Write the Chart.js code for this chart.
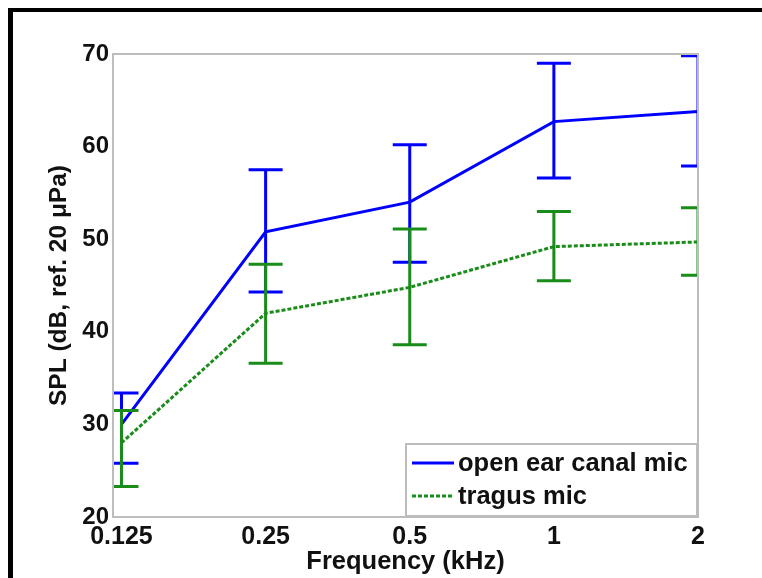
<!DOCTYPE html>
<html>
<head>
<meta charset="utf-8">
<script src="https://cdn.jsdelivr.net/npm/chart.js@4"></script>
<style>
  html, body { margin: 0; padding: 0; background: #fff; }
  #wrap { width: 762px; height: 578px; }
</style>
</head>
<body>
<div id="wrap"><canvas id="splChart" width="762" height="578"></canvas></div>
<script>
const freqs = [0.125, 0.25, 0.5, 1, 2];
const xTickLabels = ["0.125", "0.25", "0.5", "1", "2"];

const openEarMean = [30.0, 50.8, 54.0, 62.7, 63.8];
const openEarLow  = [25.8, 44.3, 47.5, 56.6, 57.9];
const openEarHigh = [33.4, 57.5, 60.2, 69.0, 69.8];

const tragusMean = [28.0, 42.0, 44.8, 49.2, 49.7];
const tragusLow  = [23.3, 36.6, 38.6, 45.5, 46.1];
const tragusHigh = [31.5, 47.3, 51.1, 53.0, 53.4];

const seriesLabels = ["open ear canal mic", "tragus mic"];
const BLUE = "#0000ff";
const GREEN = "#1a8c1a";
const FONT = "'Liberation Sans', Arial, sans-serif";

const errLow = [openEarLow, tragusLow];
const errHigh = [openEarHigh, tragusHigh];

// frame + axis box
const framePlugin = {
    id: "frame",
    beforeDraw(chart) {
        const ctx = chart.ctx;
        ctx.save();
        ctx.fillStyle = "#fff";
        ctx.fillRect(0, 0, chart.width, chart.height);
        ctx.fillStyle = "#000";
        ctx.fillRect(8, 8, chart.width - 8, 4);
        ctx.fillRect(8, 8, 5, chart.height - 8);
        ctx.restore();
    },
    afterDraw(chart) {
        const ca = chart.chartArea;
        const ctx = chart.ctx;
        ctx.save();
        ctx.strokeStyle = "#bdbdbd";
        ctx.lineWidth = 2;
        ctx.strokeRect(ca.left, ca.top, ca.right - ca.left, ca.bottom - ca.top);
        ctx.restore();
    }
};

// error bars, drawn right after each series' line
const errorBarPlugin = {
    id: "errorBars",
    afterDatasetDraw(chart, args) {
        const i = args.index;
        const ds = chart.data.datasets[i];
        const xs = chart.scales.x, ys = chart.scales.y;
        const ca = chart.chartArea;
        const ctx = chart.ctx;
        ctx.save();
        ctx.beginPath();
        ctx.rect(ca.left, ca.top - 2, ca.right - ca.left, ca.bottom - ca.top + 4);
        ctx.clip();
        ctx.strokeStyle = ds.borderColor;
        ctx.lineWidth = 3;
        ctx.setLineDash([]);
        const cap = 17;
        freqs.forEach((f, k) => {
            const px = xs.getPixelForValue(f);
            const yl = ys.getPixelForValue(errLow[i][k]);
            const yh = ys.getPixelForValue(errHigh[i][k]);
            ctx.beginPath();
            ctx.moveTo(px, yl); ctx.lineTo(px, yh);
            ctx.moveTo(px - cap, yl); ctx.lineTo(px + cap, yl);
            ctx.moveTo(px - cap, yh); ctx.lineTo(px + cap, yh);
            ctx.stroke();
        });
        ctx.restore();
    }
};

// legend box inside the lower right of the plot
const boxLegendPlugin = {
    id: "boxLegend",
    afterDraw(chart) {
        const ca = chart.chartArea;
        const ctx = chart.ctx;
        const x0 = ca.right - 292, y0 = ca.bottom - 73, w = 291, h = 72;
        ctx.save();
        ctx.fillStyle = "#fff";
        ctx.fillRect(x0, y0, w, h);
        ctx.strokeStyle = "#bdbdbd";
        ctx.lineWidth = 2;
        ctx.strokeRect(x0, y0, w, h);
        ctx.font = "bold 25.5px " + FONT;
        ctx.textBaseline = "middle";
        ctx.fillStyle = "#111";
        chart.data.datasets.forEach((ds, i) => {
            const cy = y0 + 19 + i * 33;
            ctx.strokeStyle = ds.borderColor;
            ctx.lineWidth = 3;
            ctx.setLineDash(ds.borderDash || []);
            ctx.beginPath();
            ctx.moveTo(x0 + 6, cy);
            ctx.lineTo(x0 + 48, cy);
            ctx.stroke();
            ctx.fillText(ds.label, x0 + 52, cy + 1);
        });
        ctx.restore();
    }
};

const toPoints = (ys) => freqs.map((f, k) => ({ x: f, y: ys[k] }));

new Chart(document.getElementById("splChart").getContext("2d"), {
    type: "line",
    data: {
        datasets: [{
            label: seriesLabels[0],
            data: toPoints(openEarMean),
            borderColor: BLUE,
            borderWidth: 3,
            pointRadius: 0,
            tension: 0,
            order: 1
        }, {
            label: seriesLabels[1],
            data: toPoints(tragusMean),
            borderColor: GREEN,
            borderWidth: 3,
            borderDash: [4, 2],
            pointRadius: 0,
            tension: 0,
            order: 0
        }]
    },
    options: {
        responsive: false,
        animation: false,
        layout: { padding: { left: 0, top: 54, right: 64, bottom: 0 } },
        plugins: {
            legend: { display: false },
            tooltip: { enabled: false }
        },
        scales: {
            x: {
                type: "logarithmic",
                min: 0.12,
                max: 2,
                afterBuildTicks: (s) => { s.ticks = freqs.map(v => ({ value: v })); },
                afterFit: (s) => { s.height = 61; },
                grid: { display: false, drawTicks: false },
                border: { display: false },
                ticks: {
                    autoSkip: false,
                    maxRotation: 0,
                    padding: 5,
                    color: "#111",
                    font: { family: FONT, size: 25, weight: "bold" },
                    callback: (v) => xTickLabels[freqs.indexOf(v)] ?? ""
                },
                title: {
                    display: true,
                    text: "Frequency (kHz)",
                    color: "#111",
                    padding: { top: 0, bottom: 1 },
                    font: { family: FONT, size: 25.5, weight: "bold" }
                }
            },
            y: {
                min: 20,
                max: 70,
                afterFit: (s) => { s.width = 113; },
                grid: { display: false, drawTicks: false },
                border: { display: false },
                ticks: {
                    stepSize: 10,
                    padding: 4,
                    color: "#111",
                    font: { family: FONT, size: 24, weight: "bold" }
                },
                title: {
                    display: true,
                    text: "SPL (dB, ref. 20 μPa)",
                    color: "#111",
                    padding: { top: 45, bottom: 0 },
                    font: { family: FONT, size: 24.5, weight: "bold" }
                }
            }
        }
    },
    plugins: [framePlugin, errorBarPlugin, boxLegendPlugin]
});
</script>
</body>
</html>
